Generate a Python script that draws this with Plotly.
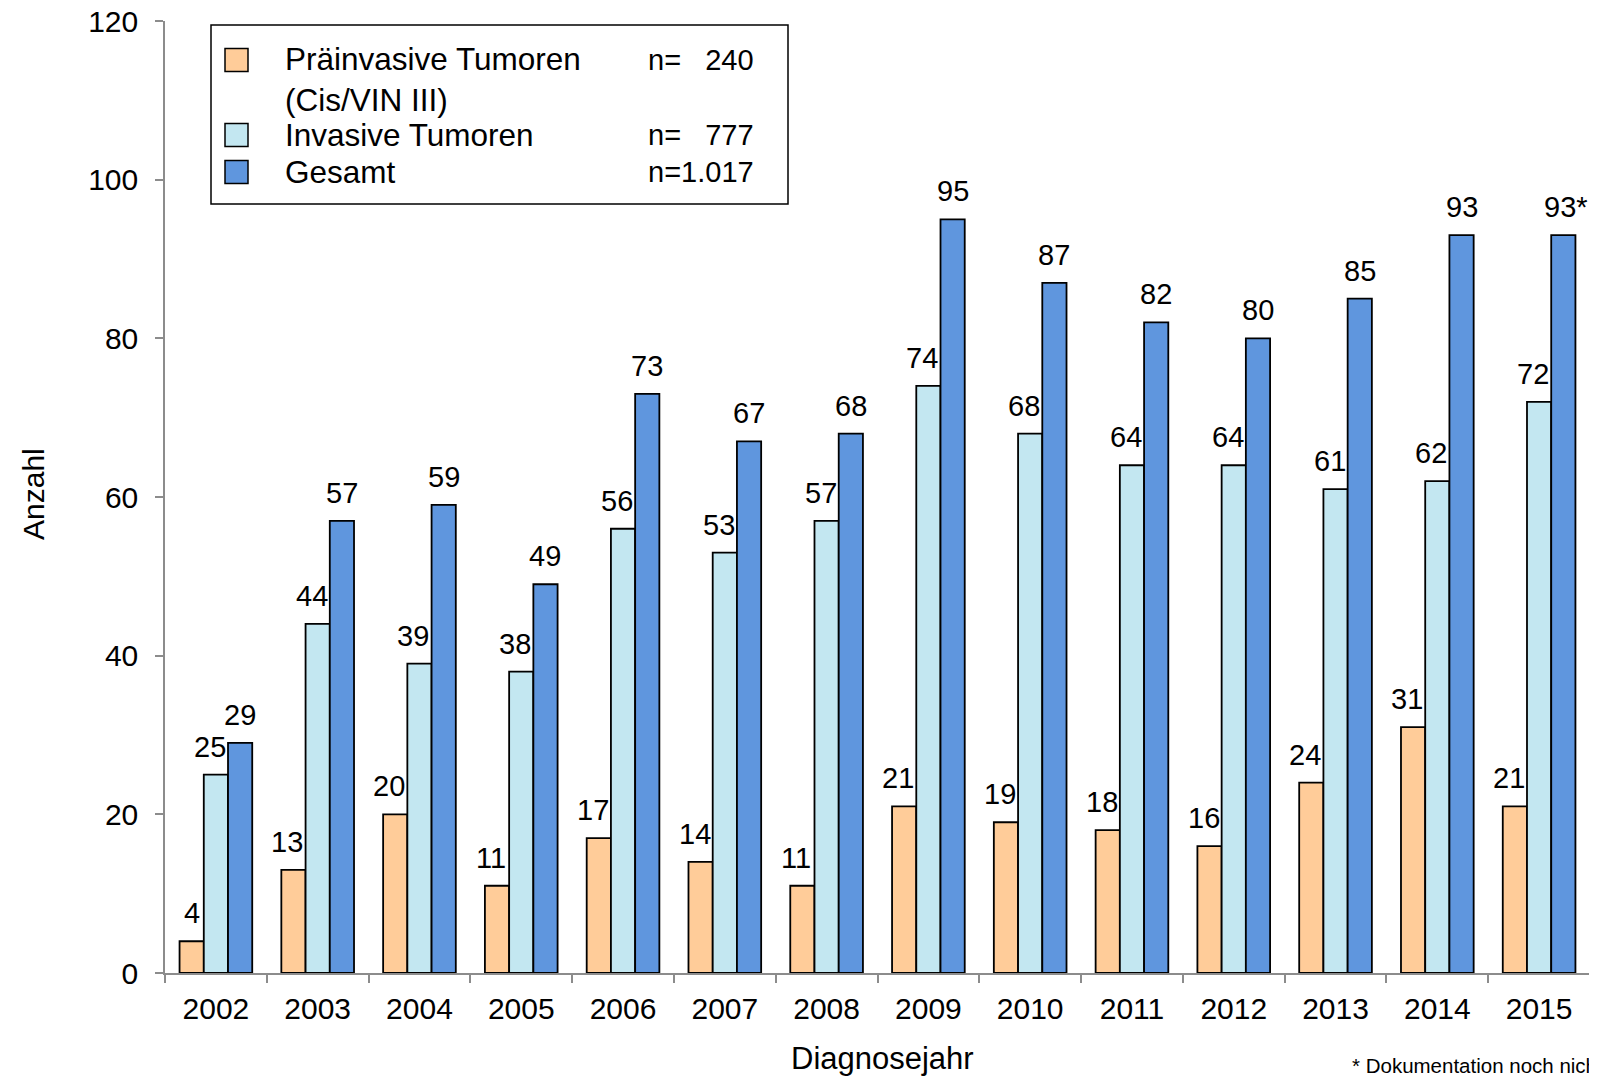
import plotly.graph_objects as go

# ---- data ----
years = ["2002", "2003", "2004", "2005", "2006", "2007", "2008",
         "2009", "2010", "2011", "2012", "2013", "2014", "2015"]
praeinvasiv = [4, 13, 20, 11, 17, 14, 11, 21, 19, 18, 16, 24, 31, 21]
invasiv = [25, 44, 39, 38, 56, 53, 57, 74, 68, 64, 64, 61, 62, 72]
gesamt = [29, 57, 59, 49, 73, 67, 68, 95, 87, 82, 80, 85, 93, 93]
gesamt_labels = [str(v) for v in gesamt[:-1]] + [str(gesamt[-1]) + "*"]
series_names = ["Präinvasive Tumoren<br>(Cis/VIN III)", "Invasive Tumoren", "Gesamt"]
series_n = ["n=\u00a0\u00a0\u00a0240", "n=\u00a0\u00a0\u00a0777", "n=1.017"]
y_ticks = [0, 20, 40, 60, 80, 100, 120]

# ---- style / layout (page pixel positions; body margin of 8px compensated) ----
OFF = 8
PAGE_W, PAGE_H = 1597, 1079
W, H = PAGE_W - OFF, PAGE_H - OFF
PLOT_X0, PLOT_X1 = 165, 1590      # page px
PLOT_Y0, PLOT_Y1 = 21, 973        # page px (top of 120, baseline 0)
L = PLOT_X0 - OFF
R = W - (PLOT_X1 - OFF)
T = PLOT_Y0 - OFF
B = H - (PLOT_Y1 - OFF)
FONT = "Liberation Sans, Arial, sans-serif"
COL = ["#FFCC99", "#C3E7F1", "#5F96DE"]
GRAY = "#8C8C8C"
BARGAP = 0.286

pw, ph = W - L - R, H - T - B
cat_w = pw / len(years)
bar_w = cat_w * (1 - BARGAP) / 3


def px(x):
    return (x - OFF - L) / pw


def py(y):
    return (H - B - (y - OFF)) / ph


fig = go.Figure()
series = [(praeinvasiv, COL[0], [str(v) for v in praeinvasiv]),
          (invasiv, COL[1], [str(v) for v in invasiv]),
          (gesamt, COL[2], gesamt_labels)]
for vals, col, txt in series:
    fig.add_trace(go.Bar(
        x=years, y=vals, marker=dict(color=col, line=dict(color="black", width=1.8)),
        showlegend=False, hoverinfo="x+y"))

shapes = []
annotations = []

# value labels (placed like the original: shifted left when wider than the bar)
for i, (vals, col, txt) in enumerate(series):
    for j, (v, t) in enumerate(zip(vals, txt)):
        shift = (i - 1) * bar_w
        if i < 2 and len(t) > 1:
            shift -= 6
        if t.endswith("*"):
            shift += 3
        annotations.append(dict(xref="x", yref="y", x=j, y=v, text=t, showarrow=False,
                                xanchor="center", yanchor="bottom", xshift=shift, yshift=10,
                                font=dict(family=FONT, size=29, color="black")))

# legend box
shapes.append(dict(type="rect", xref="paper", yref="paper",
                   x0=px(211), x1=px(788), y0=py(25), y1=py(204),
                   line=dict(color="black", width=1.5), fillcolor="white", layer="above"))
row_y = [60, 135, 172]
text_y = [79, 135, 172]
for i in range(3):
    shapes.append(dict(type="rect", xref="paper", yref="paper",
                       x0=px(225), x1=px(248), y0=py(row_y[i] - 11.5), y1=py(row_y[i] + 11.5),
                       line=dict(color="black", width=1.5), fillcolor=COL[i], layer="above"))
    annotations.append(dict(xref="paper", yref="paper", x=px(283), y=py(text_y[i]),
                            xanchor="left", yanchor="middle", align="left",
                            text=series_names[i], showarrow=False,
                            font=dict(family=FONT, size=31.5, color="black")))
    annotations.append(dict(xref="paper", yref="paper", x=px(756), y=py(row_y[i]),
                            xanchor="right", yanchor="middle",
                            text=series_n[i], showarrow=False,
                            font=dict(family=FONT, size=29, color="black")))

# axis titles and footnote
annotations.append(dict(xref="paper", yref="paper", x=px(33), y=py(494), textangle=-90,
                        xanchor="center", yanchor="middle", text="Anzahl", showarrow=False,
                        font=dict(family=FONT, size=30, color="black")))
annotations.append(dict(xref="paper", yref="paper", x=px(882), y=py(1058),
                        xanchor="center", yanchor="middle", text="Diagnosejahr", showarrow=False,
                        font=dict(family=FONT, size=31, color="black")))
annotations.append(dict(xref="paper", yref="paper", x=px(1350), y=py(1065),
                        xanchor="left", yanchor="middle",
                        text="* Dokumentation noch nicht abgeschlossen", showarrow=False,
                        font=dict(family=FONT, size=20.5, color="black")))

fig.update_layout(
    width=W, height=H,
    margin=dict(l=L, r=R, t=T, b=B, autoexpand=False),
    paper_bgcolor="white", plot_bgcolor="white",
    barmode="group", bargap=BARGAP, bargroupgap=0,
    font=dict(family=FONT, size=30, color="black"),
    shapes=shapes, annotations=annotations,
    xaxis=dict(type="category", categoryorder="array", categoryarray=years,
               range=[-0.5, len(years) - 0.5],
               tickson="boundaries", ticks="outside", ticklen=8,
               tickcolor=GRAY, tickwidth=1.5, showline=True, linecolor=GRAY, linewidth=1.5,
               showgrid=False, ticklabelstandoff=8, ticklabeloverflow="allow",
               tickfont=dict(family=FONT, size=30, color="black")),
    yaxis=dict(range=[0, 120.001], tickvals=y_ticks, ticks="outside", ticklen=8,
               tickcolor=GRAY, tickwidth=1.5, showline=True, linecolor=GRAY, linewidth=1.5,
               showgrid=False, zeroline=False, ticklabelstandoff=11, ticklabeloverflow="allow",
               tickfont=dict(family=FONT, size=30, color="black")),
)

fig.write_html("out.html")
